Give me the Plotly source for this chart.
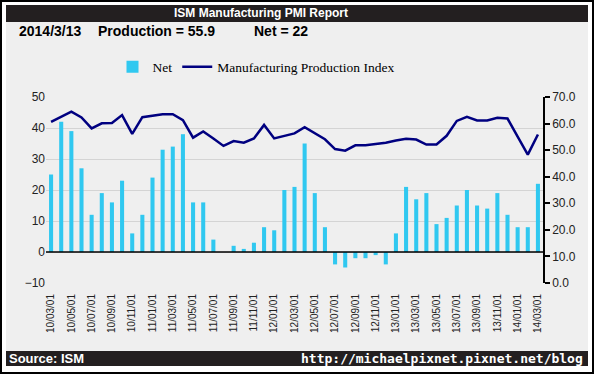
import plotly.graph_objects as go

months = [
    "10/03/01", "10/04/01", "10/05/01", "10/06/01", "10/07/01", "10/08/01", "10/09/01", "10/10/01",
    "10/11/01", "10/12/01", "11/01/01", "11/02/01", "11/03/01", "11/04/01", "11/05/01", "11/06/01",
    "11/07/01", "11/08/01", "11/09/01", "11/10/01", "11/11/01", "11/12/01", "12/01/01", "12/02/01",
    "12/03/01", "12/04/01", "12/05/01", "12/06/01", "12/07/01", "12/08/01", "12/09/01", "12/10/01",
    "12/11/01", "12/12/01", "13/01/01", "13/02/01", "13/03/01", "13/04/01", "13/05/01", "13/06/01",
    "13/07/01", "13/08/01", "13/09/01", "13/10/01", "13/11/01", "13/12/01", "14/01/01", "14/02/01",
    "14/03/01",
]

net = [25, 42, 39, 27, 12, 19, 16, 23, 6, 12,
       24, 33, 34, 38, 16, 16, 4, 0, 2, 1,
       3, 8, 7, 20, 21, 35, 19, 8, -4, -5,
       -2, -2, -1, -4, 6, 21, 17, 19, 9, 11,
       15, 20, 15, 14, 19, 12, 8, 8, 22]

production = [60.6, 62.6, 64.5, 62.3, 58.2, 60.1, 60.2, 63.2, 56.1, 62.4,
              62.9, 63.5, 63.5, 61.3, 54.7, 57.0, 54.4, 51.6, 53.4, 52.8,
              54.4, 59.5, 54.4, 55.3, 56.3, 58.6, 56.3, 54.1, 50.4, 49.8,
              51.8, 51.8, 52.3, 52.8, 53.6, 54.3, 54.0, 52.1, 52.1, 55.4,
              61.0, 62.5, 61.2, 61.2, 62.2, 61.9, 55.1, 48.3, 55.9]

tick_labels = months[::2]

title_text = "ISM Manufacturing PMI Report"
date_text = "2014/3/13"
prod_text = "Production = 55.9"
net_text = "Net = 22"
source_text = "Source: ISM"
url_text = "http://michaelpixnet.pixnet.net/blog"

W, H = 594, 374
L, R, T, B = 46, 543, 97, 283


def px(x):
    return (x - L) / (R - L)


def py(y):
    return (B - y) / (B - T)


fig = go.Figure()
fig.add_trace(go.Bar(x=months, y=net, name="Net", marker_color="#30c8f0",
                     marker_line_width=0, yaxis="y"))
fig.add_trace(go.Scatter(x=months, y=production, name="Manufacturing Production Index",
                         mode="lines", line=dict(color="#000080", width=2.5), yaxis="y2"))


def prect(x0, y0, x1, y1, **kw):
    d = dict(type="rect", xref="paper", yref="paper", x0=px(x0), x1=px(x1), y0=py(y1), y1=py(y0),
             line_width=0, layer="below")
    d.update(kw)
    return d


shapes = [
    # white ring between outer border and content
    prect(0, 0, 6, 374, fillcolor="white"),
    prect(588, 0, 594, 374, fillcolor="white"),
    prect(0, 0, 594, 5, fillcolor="white"),
    prect(0, 366, 594, 374, fillcolor="white"),
    # outer black border
    prect(0, 0, 2, 374, fillcolor="black"),
    prect(592, 0, 594, 374, fillcolor="black"),
    prect(0, 0, 594, 2, fillcolor="black"),
    prect(0, 372, 594, 374, fillcolor="black"),
    # title and footer bars
    prect(6, 5, 588, 22, fillcolor="#231f20"),
    prect(6, 351, 588, 366, fillcolor="#231f20"),
    # zero line drawn over bars
    dict(type="line", xref="paper", yref="y", x0=0, x1=1, y0=0, y1=0,
         line=dict(color="black", width=1.5), layer="above"),
]

annotations = [
    dict(text="<b>" + title_text + "</b>", x=px(261), y=py(13.5), xref="paper", yref="paper",
         showarrow=False, xanchor="center", yanchor="middle",
         font=dict(family="Liberation Sans", size=12, color="white")),
    dict(text="<b>" + date_text + "</b>", x=px(17), y=py(31), xref="paper", yref="paper",
         showarrow=False, xanchor="left", yanchor="middle",
         font=dict(family="Liberation Sans", size=14, color="black")),
    dict(text="<b>" + prod_text + "</b>", x=px(96), y=py(31), xref="paper", yref="paper",
         showarrow=False, xanchor="left", yanchor="middle",
         font=dict(family="Liberation Sans", size=14, color="black")),
    dict(text="<b>" + net_text + "</b>", x=px(252), y=py(31), xref="paper", yref="paper",
         showarrow=False, xanchor="left", yanchor="middle",
         font=dict(family="Liberation Sans", size=14, color="black")),
    dict(text="<b>" + source_text + "</b>", x=px(7), y=py(358.5), xref="paper", yref="paper",
         showarrow=False, xanchor="left", yanchor="middle",
         font=dict(family="Liberation Sans", size=13, color="white")),
    dict(text="<b>" + url_text + "</b>", x=px(585), y=py(358.5), xref="paper", yref="paper",
         showarrow=False, xanchor="right", yanchor="middle",
         font=dict(family="DejaVu Sans Mono", size=13, color="white")),
]

fig.update_layout(
    width=W, height=H, autosize=False,
    margin=dict(l=L, r=W - R, t=T, b=H - B, pad=0),
    paper_bgcolor="#efefef", plot_bgcolor="#efefef",
    bargap=0.6,
    showlegend=True,
    legend=dict(orientation="h", x=px(256), y=py(67), xanchor="center", yanchor="middle",
                bgcolor="rgba(0,0,0,0)", font=dict(family="Liberation Serif", size=13.5, color="black"),
                itemwidth=30, tracegroupgap=0),
    xaxis=dict(type="category", categoryorder="array", categoryarray=months,
               tickvals=tick_labels, ticktext=tick_labels, tickangle=-90,
               showgrid=False, showline=False, zeroline=False,
               ticks="outside", ticklen=6, tickcolor="rgba(0,0,0,0)",
               tickfont=dict(family="Liberation Sans", size=10, color="#222"),
               range=[-0.5, len(months) - 0.5]),
    yaxis=dict(range=[-10, 50], dtick=10, tick0=0, showgrid=True, gridcolor="#d4d4d4", gridwidth=1,
               zeroline=False,
               showline=False, ticks="", tickfont=dict(family="Liberation Sans", size=12, color="#222")),
    yaxis2=dict(range=[0, 70], dtick=10, tick0=0, overlaying="y", side="right",
                showgrid=False, zeroline=False, showline=True, linecolor="black", linewidth=1.5,
                ticks="outside", ticklen=5, tickwidth=1.5, tickcolor="black", tickformat=".1f",
                tickfont=dict(family="Liberation Sans", size=12, color="#222")),
    shapes=shapes,
    annotations=annotations,
)

fig.write_html("out.html", config={"displayModeBar": False},
               post_script="document.body.style.margin='0';document.body.style.padding='0';")
